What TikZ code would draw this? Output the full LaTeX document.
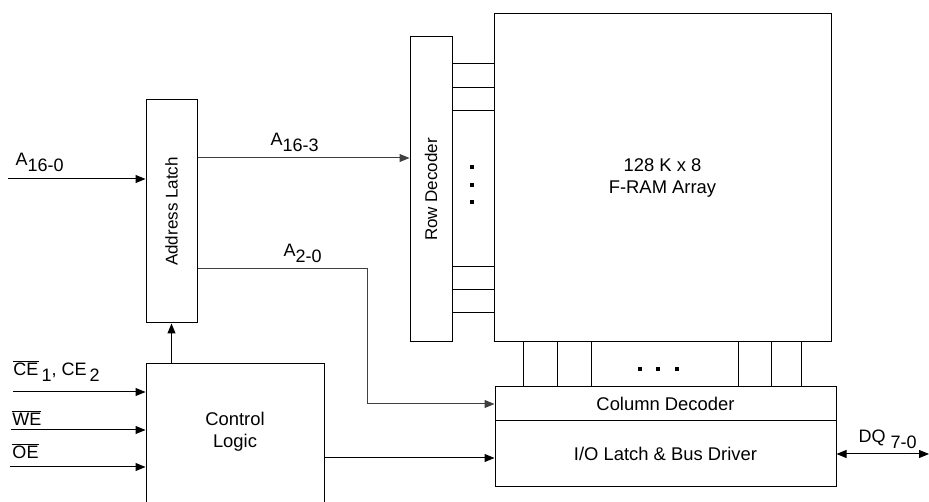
\documentclass[tikz,border=0pt]{standalone}
\usepackage{fontspec}
\setmainfont{Liberation Sans}
\usetikzlibrary{arrows.meta,fit}
\newcommand\sbs[1]{\raisebox{-0.3em}{#1}}
\newcommand\ovl[1]{$\overline{\mbox{#1}}$}
\begin{document}
\begin{tikzpicture}[x=0.75pt,y=-0.75pt,
  line width=0.75pt,
  blk/.style={draw, inner sep=0pt},
  arr/.style={-{Triangle[length=7.5pt,width=6pt]}},
  dbl/.style={{Triangle[length=7.5pt,width=6pt]}-{Triangle[length=7.5pt,width=6pt]}},
  txt/.style={font=\fontsize{13.8pt}{16.5pt}\selectfont, align=center, inner sep=0pt},
  vtxt/.style={font=\fontsize{12.75pt}{15pt}\selectfont, rotate=90, inner sep=0pt},
  lbl/.style={font=\fontsize{13.5pt}{16pt}\selectfont, anchor=base west, inner sep=0pt},
  dot/.style={fill, minimum size=2.6pt, inner sep=0pt}]
\useasboundingbox (0,0) rectangle (929,502);

% blocks
\node[blk, fit={(146,100) (197,323)}] (al) {};
\node[blk, fit={(146,364) (324,510)}] (ctrl) {};
\node[blk, fit={(410,37) (452,342)}] (rd) {};
\node[blk, fit={(494,14) (831,342)}] (fr) {};
\node[blk, fit={(495,387) (836,421)}] (cd) {};
\node[blk, fit={(495,421) (836,486)}] (io) {};

% block texts
\node[vtxt] (altxt) at (al.center) {Address Latch};
\node[vtxt] (rdtxt) at (rd.center) {Row Decoder};
\node[txt] (frtxt) at (662.5,178) {128 K x 8\\F-RAM Array};
\node[txt] (ctrltxt) at (235,432) {Control\\Logic};
\node[txt] (cdtxt) at (665.5,404) {Column Decoder};
\node[txt] (iotxt) at (665.5,454) {I/O Latch \& Bus Driver};

% row lines
\foreach \yy in {64,88,111,267,290,313}
  \draw (rd.east |- 0,\yy) -- (fr.west |- 0,\yy);
\foreach \yy in {167,185,202}
  \node[dot] at (472,\yy) {};
% column lines
\foreach \xx in {523,557,591,738,771,801}
  \draw (fr.south -| \xx,0) -- (cd.north -| \xx,0);
\foreach \xx in {640,658,677}
  \node[dot] at (\xx,369) {};

% inputs
\coordinate (a16in) at (8,179);
\draw[arr] (a16in) -- (a16in -| al.west);
\node[lbl] (a16lbl) at (15,166) {A\sbs{16-0}};

\draw[arr, draw=black!75] (al.east |- 0,158) -- (rd.west |- 0,158);
\node[lbl] (a163lbl) at (270,146) {A\sbs{16-3}};

\draw[arr, draw=black!75] (al.east |- 0,269) -| (367,404) -- (cd.west);
\node[lbl] (a20lbl) at (283,257) {A\sbs{2-0}};

\draw[arr] (ctrl.north -| al.south) -- (al.south);
\draw[arr] (ctrl.east |- 0,458) -- (io.west |- 0,458);

\coordinate (cein) at (13,392);
\coordinate (wein) at (11,430);
\coordinate (oein) at (10,467);
\draw[arr] (cein) -- (cein -| ctrl.west);
\draw[arr] (wein) -- (wein -| ctrl.west);
\draw[arr] (oein) -- (oein -| ctrl.west);
\node[lbl] (celbl) at (13,376) {\ovl{CE}\,\sbs{1}, CE\,\sbs{2}};
\node[lbl] (welbl) at (12,426) {\ovl{WE}};
\node[lbl] (oelbl) at (12,459) {\ovl{OE}};

\coordinate (dqout) at (929,454);
\draw[dbl] (io.east |- dqout) -- (dqout);
\node[lbl] (dqlbl) at (858,443) {DQ \sbs{7-0}};
\end{tikzpicture}
\end{document}
